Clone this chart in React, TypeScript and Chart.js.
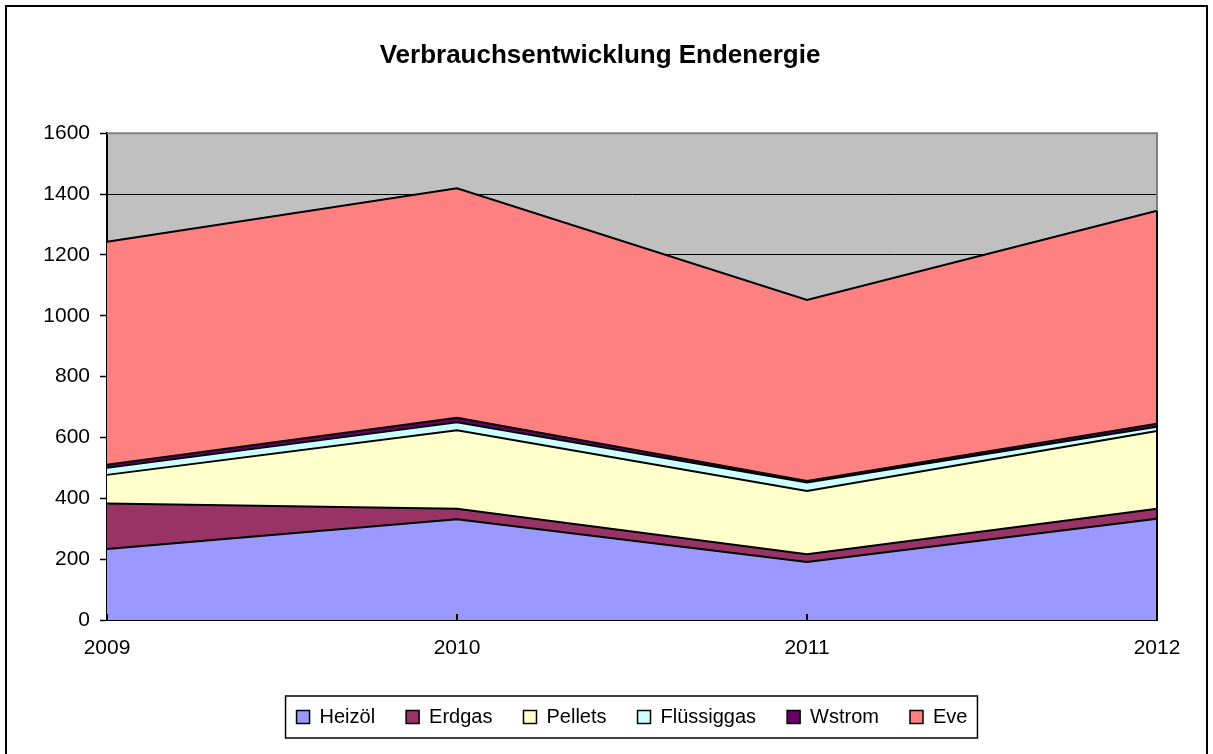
import React, { useEffect, useRef } from 'react';
import { Chart, registerables } from 'chart.js';

Chart.register(...registerables);

const years = ['2009', '2010', '2011', '2012'];
const heizoel = [233, 331, 191, 333];
const erdgas = [150, 35, 25, 33];
const pellets = [94, 258, 208, 255];
const fluessiggas = [23, 26, 28, 14];
const wstrom = [10, 15, 5, 10];
const eve = [733, 754, 595, 700];

const seriesNames = ['Heizöl', 'Erdgas', 'Pellets', 'Flüssiggas', 'Wstrom', 'Eve'];
const seriesData = [heizoel, erdgas, pellets, fluessiggas, wstrom, eve];
const seriesColors = ['#9999FF', '#993366', '#FFFFCC', '#CCFFFF', '#660066', '#FF8080'];

const yMin = 0;
const yMax = 1600;
const yStep = 200;

const titleText = 'Verbrauchsentwicklung Endenergie';
const FONT = '"Liberation Sans", Arial, Helvetica, sans-serif';

const framePlugin = {
  id: 'framePlugin',
  beforeDraw(chart: any) {
    const { ctx, chartArea: a } = chart;
    ctx.save();
    ctx.fillStyle = '#C0C0C0';
    ctx.fillRect(a.left, a.top, a.right - a.left, a.bottom - a.top);
    ctx.restore();
  },
  afterDraw(chart: any) {
    const { ctx, chartArea: a, scales } = chart;
    const y = scales.y;
    const x = scales.x;
    const last = years.length - 1;
    let total = 0;
    chart.data.datasets.forEach((d: any) => {
      total += d.data[last];
    });
    const yTop = y.getPixelForValue(total);
    ctx.save();
    ctx.lineWidth = 2;
    ctx.strokeStyle = '#808080';
    ctx.beginPath();
    ctx.moveTo(a.left, a.top);
    ctx.lineTo(a.right, a.top);
    ctx.lineTo(a.right, yTop);
    ctx.stroke();
    ctx.strokeStyle = '#000';
    ctx.beginPath();
    ctx.moveTo(a.right, yTop);
    ctx.lineTo(a.right, a.bottom);
    ctx.stroke();
    years.forEach((_, i) => {
      const px = x.getPixelForValue(i);
      ctx.beginPath();
      ctx.moveTo(px, a.bottom);
      ctx.lineTo(px, a.bottom - 6);
      ctx.stroke();
    });
    const hb = chart.legend && chart.legend.legendHitBoxes;
    if (hb && hb.length) {
      const l = hb[0].left - 11;
      const r = hb[hb.length - 1].left + hb[hb.length - 1].width + 10;
      const t = hb[0].top - 11;
      const b = hb[0].top + hb[0].height + 11;
      ctx.lineWidth = 1.5;
      ctx.strokeStyle = '#000';
      ctx.strokeRect(l, t, r - l, b - t);
    }
    ctx.restore();
  },
};

export default function App() {
  const canvasRef = useRef<HTMLCanvasElement | null>(null);

  useEffect(() => {
    if (!canvasRef.current) return;
    Chart.defaults.font.family = FONT;
    Chart.defaults.color = '#000';
    const chart = new Chart(canvasRef.current, {
      type: 'line',
      data: {
        labels: years,
        datasets: seriesNames.map((name, i) => ({
          label: name,
          data: seriesData[i],
          backgroundColor: seriesColors[i],
          borderColor: '#000',
          borderWidth: 2,
          fill: i === 0 ? 'origin' : '-1',
          pointRadius: 0,
          pointHoverRadius: 0,
          tension: 0,
        })),
      },
      options: {
        responsive: false,
        animation: false,
        devicePixelRatio: 1,
        layout: { padding: { left: 43, right: 56, top: 0, bottom: 17 } },
        scales: {
          x: {
            type: 'category',
            offset: false,
            grid: { display: true, drawOnChartArea: false, drawTicks: false },
            border: { display: true, color: '#000', width: 2 },
            ticks: { font: { size: 21 }, color: '#000', padding: 16, maxRotation: 0, autoSkip: false },
            afterFit: (scale: any) => {
              scale.height = 56;
            },
          },
          y: {
            stacked: true,
            min: yMin,
            max: yMax,
            ticks: {
              stepSize: yStep,
              font: { size: 21 },
              color: '#000',
              padding: 10,
              callback: (v: any) => String(v),
            },
            grid: {
              color: (c: any) => (c.tick && c.tick.value === yMax ? 'rgba(0,0,0,0)' : '#000'),
              lineWidth: 1,
              tickColor: '#000',
              tickLength: 7,
              tickWidth: 1.5,
            },
            border: { display: true, color: '#000', width: 2 },
            afterFit: (scale: any) => {
              scale.width = 64;
            },
          },
        },
        plugins: {
          title: {
            display: true,
            text: titleText,
            color: '#000',
            font: { size: 26, weight: 'bold', family: FONT },
            padding: { top: 40, bottom: 62 },
          },
          legend: {
            display: true,
            position: 'bottom',
            fullSize: false,
            labels: {
              font: { size: 20, family: FONT },
              color: '#000',
              boxWidth: 13,
              boxHeight: 13,
              padding: 31,
              generateLabels: (ch: any) =>
                ch.data.datasets.map((d: any, i: number) => ({
                  text: d.label,
                  fillStyle: d.backgroundColor,
                  strokeStyle: '#000',
                  lineWidth: 1.5,
                  hidden: false,
                  datasetIndex: i,
                  fontColor: '#000',
                })),
            },
          },
          tooltip: { enabled: false },
        },
      },
      plugins: [framePlugin],
    } as any);
    return () => chart.destroy();
  }, []);

  return (
    <div
      style={{
        position: 'fixed',
        left: 0,
        top: 0,
        width: 1213,
        height: 754,
        overflow: 'hidden',
        background: '#fff',
      }}
    >
      <div
        style={{
          position: 'absolute',
          left: 5,
          top: 5,
          width: 1203,
          height: 800,
          border: '2px solid #000',
          boxSizing: 'border-box',
        }}
      />
      <canvas
        ref={canvasRef}
        width={1213}
        height={754}
        style={{ position: 'absolute', left: 0, top: 0, width: 1213, height: 754 }}
      />
    </div>
  );
}
